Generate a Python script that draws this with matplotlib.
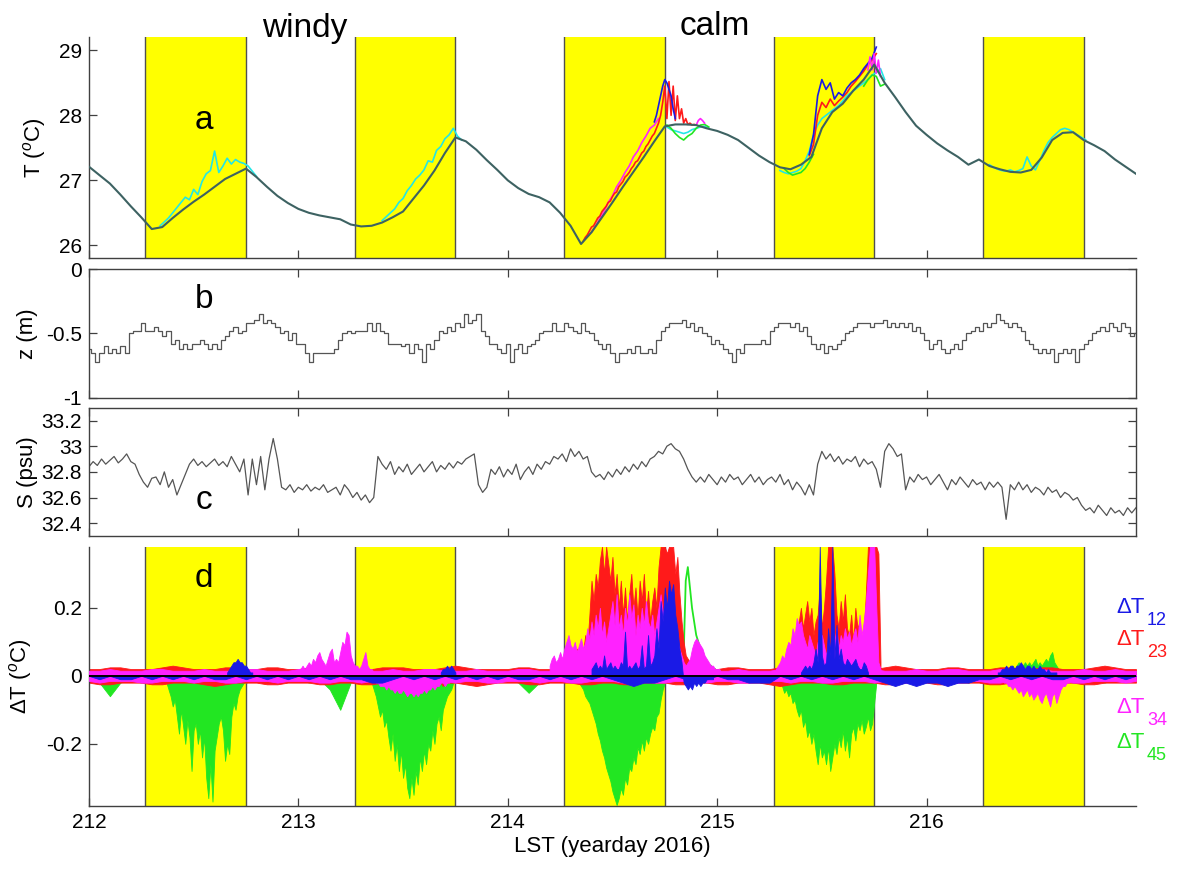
import numpy as np
import matplotlib
matplotlib.use("Agg")
import matplotlib.pyplot as plt
from matplotlib.ticker import FuncFormatter

plt.rcParams['font.family'] = ['Liberation Sans', 'DejaVu Sans']
plt.rcParams['axes.unicode_minus'] = False
plt.rcParams['mathtext.fontset'] = 'custom'
plt.rcParams['mathtext.rm'] = 'Liberation Sans'
plt.rcParams['mathtext.it'] = 'Liberation Sans:italic'

# daylight periods (yellow boxes)
sunrise = [212.27, 213.27, 214.27, 215.27, 216.27]
sunset = [212.75, 213.75, 214.75, 215.75, 216.75]
day_ticks = [212, 213, 214, 215, 216]

# ---- panel a: temperature (deg C), every 0.05 day from 212 to 217
T_base = [27.21, 27.08, 26.95, 26.78, 26.60, 26.43, 26.25, 26.28, 26.42, 26.55,
          26.67, 26.78, 26.90, 27.02, 27.10, 27.18, 27.05, 26.90, 26.76, 26.65,
          26.56, 26.50, 26.46, 26.43, 26.40, 26.32, 26.29, 26.30, 26.35, 26.43,
          26.52, 26.72, 26.92, 27.15, 27.42, 27.66, 27.60, 27.47, 27.31, 27.16,
          27.00, 26.88, 26.79, 26.74, 26.66, 26.50, 26.30, 26.02, 26.20, 26.43,
          26.66, 26.90, 27.13, 27.36, 27.60, 27.83, 27.86, 27.86, 27.85, 27.80,
          27.76, 27.70, 27.62, 27.50, 27.38, 27.28, 27.20, 27.17, 27.24, 27.36,
          27.80, 28.05, 28.18, 28.38, 28.55, 28.78, 28.50, 28.28, 28.05, 27.84,
          27.70, 27.57, 27.46, 27.36, 27.24, 27.32, 27.22, 27.17, 27.13, 27.12,
          27.16, 27.35, 27.62, 27.73, 27.74, 27.62, 27.54, 27.45, 27.32, 27.21,
          27.10]

# other sensors where they split from the bundle
cyan_a1 = [26.30, 26.36, 26.42, 26.50, 26.58, 26.66, 26.74, 26.70, 26.86, 26.78,
           26.98, 27.10, 27.15, 27.45, 27.12, 27.22, 27.34, 27.25, 27.32, 27.28,
           27.26, 27.22, 27.14, 27.06]
cyan_a2 = [26.38, 26.44, 26.50, 26.56, 26.66, 26.72, 26.84, 26.92, 27.02, 27.08,
           27.16, 27.30, 27.28, 27.46, 27.52, 27.64, 27.70, 27.80, 27.68, 27.62]
red_a3 = [26.06, 26.12, 26.16, 26.22, 26.28, 26.30, 26.36, 26.42, 26.45, 26.52,
          26.56, 26.60, 26.66, 26.68, 26.75, 26.80, 26.82, 26.90, 26.94, 26.98,
          27.05, 27.08, 27.12, 27.18, 27.22, 27.28, 27.30, 27.36, 27.42, 27.45,
          27.52, 27.56, 27.62, 27.68, 27.72, 27.80, 27.88, 28.00, 28.20, 28.45,
          27.95, 28.52, 28.00, 28.45, 27.92, 28.30, 27.95, 28.10, 27.88, 27.95,
          27.86, 27.88, 27.85, 27.86, 27.85]
magenta_a3b = [26.20, 26.30, 26.42, 26.52, 26.66, 26.76, 26.90, 27.00, 27.12, 27.22,
               27.36, 27.45, 27.58, 27.68, 27.80, 27.85, 27.95]
blue_a3 = [27.90, 28.00, 28.15, 28.30, 28.45, 28.55, 28.50, 28.40, 28.30, 28.10, 27.95]
green_a3 = [27.85, 27.80, 27.72, 27.66, 27.62, 27.68, 27.72, 27.80, 27.85, 27.86, 27.82]
cyan_a3 = [27.82, 27.78, 27.76, 27.74, 27.72, 27.74, 27.78, 27.80, 27.82, 27.83, 27.80]
magenta_a3 = [27.85, 27.92, 27.95, 27.92, 27.88]
cyan_a4 = [27.15, 27.12, 27.10, 27.12, 27.14, 27.18, 27.30, 27.45, 27.70, 27.85,
           27.95, 28.00, 28.05, 28.10, 28.15, 28.22, 28.30, 28.35, 28.40, 28.45,
           28.50, 28.55, 28.62, 28.66, 28.72, 28.55]
green_a4 = [27.18, 27.12, 27.08, 27.10, 27.12, 27.18, 27.28, 27.40]
green_a4b = [28.45, 28.55, 28.62, 28.60, 28.45, 28.48]
red_a4 = [27.38, 27.55, 28.00, 28.20, 28.12, 28.25, 28.15, 28.22, 28.28, 28.35,
          28.45, 28.52, 28.60, 28.68, 28.78, 28.85, 28.95]
blue_a4 = [27.40, 27.70, 28.30, 28.55, 28.40, 28.50, 28.25, 28.35, 28.30, 28.42,
           28.50, 28.55, 28.62, 28.72, 28.80, 28.88, 29.05]
magenta_a4 = [28.70, 28.90, 28.70, 28.95, 28.65, 28.85, 28.60]
cyan_a5 = [27.24, 27.20, 27.17, 27.15, 27.14, 27.16, 27.13, 27.15, 27.18, 27.36,
           27.22, 27.16, 27.30, 27.45, 27.58, 27.66, 27.72, 27.78, 27.80, 27.78,
           27.74, 27.70, 27.66, 27.62]

# ---- panel b: depth z (m), every 0.02 day
z_depth = [-0.62, -0.65, -0.72, -0.65, -0.60, -0.65, -0.62, -0.65, -0.60, -0.65,
           -0.50, -0.48, -0.48, -0.42, -0.48, -0.48, -0.45, -0.48, -0.52, -0.48, -0.58,
           -0.55, -0.62, -0.58, -0.62, -0.58, -0.58, -0.55, -0.58, -0.62, -0.58, -0.62, -0.55, -0.52,
           -0.48, -0.45, -0.50, -0.48, -0.42,
           -0.42, -0.40, -0.35, -0.42, -0.40, -0.42, -0.45, -0.50,
           -0.48, -0.55, -0.50, -0.58, -0.58,
           -0.65, -0.72, -0.65, -0.65, -0.65, -0.65, -0.65, -0.62,
           -0.55, -0.50, -0.48, -0.50, -0.48, -0.48, -0.48,
           -0.42, -0.48, -0.42, -0.48,
           -0.50, -0.58, -0.58, -0.58, -0.60,
           -0.58, -0.65, -0.58, -0.62, -0.72, -0.58, -0.62,
           -0.55, -0.48, -0.50, -0.45, -0.48, -0.42, -0.45,
           -0.35, -0.42, -0.40, -0.35,
           -0.48, -0.52, -0.58,
           -0.58, -0.62, -0.65, -0.58, -0.72, -0.62, -0.58, -0.65, -0.60, -0.58, -0.55,
           -0.50, -0.48, -0.48, -0.42, -0.48, -0.48, -0.42, -0.45, -0.48, -0.50, -0.42, -0.48, -0.50,
           -0.55, -0.58, -0.62, -0.58, -0.65, -0.72,
           -0.65, -0.65, -0.62, -0.65, -0.60, -0.65, -0.65, -0.62, -0.65,
           -0.55, -0.48, -0.45, -0.42,
           -0.42, -0.42, -0.40, -0.45, -0.42, -0.48, -0.45,
           -0.50, -0.52, -0.58, -0.55, -0.58,
           -0.62, -0.65, -0.72, -0.62, -0.65, -0.58,
           -0.58, -0.58, -0.58, -0.55, -0.58,
           -0.48, -0.45, -0.42, -0.42,
           -0.42, -0.45, -0.42, -0.48, -0.45,
           -0.52, -0.58, -0.62, -0.58, -0.65, -0.60, -0.62, -0.58,
           -0.55, -0.50, -0.48, -0.45, -0.42, -0.42,
           -0.42, -0.45, -0.42, -0.42, -0.40, -0.45, -0.42, -0.45, -0.42, -0.45, -0.42, -0.48, -0.45,
           -0.50, -0.55, -0.62, -0.58, -0.55,
           -0.62, -0.65, -0.62, -0.58, -0.62,
           -0.55, -0.50, -0.48, -0.45, -0.48, -0.42, -0.45,
           -0.42, -0.35, -0.40, -0.42, -0.45, -0.42, -0.45, -0.48,
           -0.55, -0.58,
           -0.62, -0.65, -0.62, -0.65, -0.62, -0.72, -0.65, -0.62, -0.65, -0.62, -0.72, -0.62, -0.58,
           -0.55, -0.50, -0.48, -0.45, -0.48, -0.42, -0.45, -0.48, -0.42, -0.45, -0.52, -0.50]

# ---- panel c: salinity (psu), every 0.02 day
S_sal = [32.84, 32.88, 32.85, 32.90, 32.86, 32.89, 32.92, 32.87, 32.90, 32.94, 32.88, 32.86,
         32.78, 32.72, 32.68, 32.75,
         32.76, 32.70, 32.80, 32.68, 32.74, 32.62, 32.70,
         32.78, 32.86, 32.90, 32.85, 32.88, 32.84, 32.87,
         32.90, 32.85, 32.88, 32.84, 32.92, 32.86, 32.80, 32.90, 32.62, 32.90, 32.70, 32.92, 32.66, 32.90,
         33.06, 32.90,
         32.68, 32.66, 32.70, 32.64, 32.68, 32.66, 32.70, 32.65, 32.68, 32.66, 32.70, 32.64,
         32.66, 32.68, 32.62, 32.70, 32.66, 32.60, 32.64, 32.58, 32.62, 32.56, 32.60,
         32.92, 32.86,
         32.82, 32.88, 32.78, 32.84, 32.80, 32.86, 32.78, 32.82, 32.86, 32.80, 32.84,
         32.88, 32.80, 32.85, 32.82, 32.87, 32.83, 32.88, 32.86, 32.90, 32.92, 32.94,
         32.70, 32.64, 32.68,
         32.82, 32.78, 32.84, 32.76, 32.82, 32.78, 32.86, 32.74, 32.80, 32.84, 32.78, 32.86,
         32.82, 32.88, 32.86, 32.92, 32.90,
         32.94, 32.88, 32.98, 32.92, 32.96, 32.90, 32.92,
         32.80, 32.76,
         32.78, 32.74, 32.80, 32.76, 32.82, 32.78, 32.84, 32.80, 32.86, 32.82, 32.88, 32.84, 32.90,
         32.92, 32.96, 32.94, 33.00, 33.02, 32.98, 32.96,
         32.90, 32.82, 32.76, 32.72,
         32.76, 32.72, 32.78, 32.74, 32.70, 32.76, 32.72, 32.78, 32.74, 32.76, 32.70, 32.74, 32.78, 32.72,
         32.76, 32.70, 32.74, 32.76, 32.72, 32.78, 32.70, 32.74, 32.66, 32.72, 32.68, 32.62, 32.70, 32.62,
         32.86, 32.96, 32.90, 32.94,
         32.88, 32.92, 32.86, 32.90, 32.88, 32.92, 32.84, 32.90, 32.86, 32.88, 32.82,
         32.68, 32.96, 33.02, 32.98, 32.92, 32.94, 32.66,
         32.76, 32.72, 32.78, 32.74, 32.76, 32.70, 32.74, 32.78, 32.72, 32.66, 32.74,
         32.70, 32.76, 32.72, 32.68, 32.74, 32.70, 32.72, 32.66, 32.72, 32.68,
         32.72, 32.68, 32.43, 32.70, 32.66, 32.72,
         32.66, 32.70, 32.64, 32.68, 32.66, 32.62, 32.68, 32.64, 32.66, 32.60, 32.64, 32.62, 32.58, 32.60,
         32.54, 32.50, 32.52, 32.48, 32.54, 32.50, 32.46, 32.52, 32.48, 32.50, 32.46, 32.52, 32.48, 32.52]

# ---- panel d: temperature differences, in 0.01 deg C
# background scatter, every 0.05 day
red_noise_hi = [2, 2, 2.5, 2.5, 2, 2, 2, 2.5, 3, 2.5, 2, 2, 2, 2.5, 2.5, 2, 2, 2.5, 2.5, 2,
                2, 2.5, 3, 2.5, 2, 2, 2, 2, 2.5, 2.5, 2.5, 2, 2, 2, 2.5, 3, 2.5, 2, 2, 2,
                2, 2.5, 2.5, 2, 2, 2.5, 2.5, 2, 2, 2, 2.5, 2.5, 2, 2, 2, 2.5, 2.5, 2, 2, 2,
                2, 2.5, 2.5, 2, 2, 2, 2.5, 2.5, 2, 2, 2, 2, 2.5, 2.5, 2, 2, 2.5, 3, 2.5, 2,
                2, 2, 2.5, 2.5, 2, 2, 2, 2.5, 2.5, 2, 2, 2.5, 2.5, 2, 2, 2, 2.5, 3, 2.5, 2, 2]
red_noise_lo = [-2, -2.5, -2.5, -2, -2, -2, -2.5, -2.5, -2, -2, -2, -2.5, -3, -2.5, -2, -2, -2, -2.5, -2.5, -2,
                -2, -2, -2.5, -2.5, -2, -2, -2.5, -2.5, -2, -2, -2, -2.5, -2.5, -2, -2, -2, -2.5, -3, -2.5, -2,
                -2, -2, -2.5, -2.5, -2, -2, -2, -2.5, -2.5, -2, -2, -2.5, -2.5, -2, -2, -2, -2.5, -2.5, -2, -2,
                -2.5, -2.5, -2, -2, -2, -2.5, -3, -2.5, -2, -2, -2, -2.5, -2.5, -2, -2, -2, -2.5, -2.5, -2, -2,
                -2, -2.5, -2.5, -2, -2, -2, -2.5, -2.5, -2, -2, -2.5, -2.5, -2, -2, -2, -2.5, -2.5, -2, -2, -2, -2]
mag_noise_hi = [1.5, 1.5, 2, 1.5, 1.5, 1.5, 2, 2, 1.5, 1.5, 1.5, 2, 1.5, 1.5, 1.5, 2, 2, 1.5, 1.5, 1.5,
                2, 1.5, 1.5, 1.5, 2, 2, 1.5, 1.5, 1.5, 2, 1.5, 1.5, 2, 2, 1.5, 1.5, 1.5, 2, 1.5, 1.5,
                1.5, 2, 2, 1.5, 1.5, 1.5, 2, 1.5, 1.5, 2, 2, 1.5, 1.5, 1.5, 2, 1.5, 1.5, 1.5, 2, 2,
                1.5, 1.5, 2, 1.5, 1.5, 1.5, 2, 2, 1.5, 1.5, 2, 1.5, 1.5, 1.5, 2, 2, 1.5, 1.5, 1.5, 2,
                1.5, 1.5, 2, 2, 1.5, 1.5, 1.5, 2, 1.5, 1.5, 2, 2, 1.5, 1.5, 1.5, 2, 1.5, 1.5, 2, 1.5, 1.5]
mag_noise_lo = [-1.5, -2, -1.5, -1.5, -1.5, -2, -2, -1.5, -1.5, -1.5, -2, -1.5, -1.5, -2, -2, -1.5, -1.5, -1.5, -2, -1.5,
                -1.5, -1.5, -2, -2, -1.5, -1.5, -2, -1.5, -1.5, -1.5, -2, -2, -1.5, -1.5, -1.5, -2, -1.5, -1.5, -2, -2,
                -1.5, -1.5, -1.5, -2, -1.5, -1.5, -2, -2, -1.5, -1.5, -1.5, -2, -1.5, -1.5, -2, -2, -1.5, -1.5, -1.5, -2,
                -1.5, -1.5, -2, -2, -1.5, -1.5, -1.5, -2, -1.5, -1.5, -2, -2, -1.5, -1.5, -1.5, -2, -1.5, -1.5, -2, -2,
                -1.5, -1.5, -1.5, -2, -1.5, -1.5, -2, -2, -1.5, -1.5, -1.5, -2, -1.5, -1.5, -2, -2, -1.5, -1.5, -1.5, -2, -1.5]
green_noise = [-1, -2, -6, -2, -1, -2, -1, -1, -2, -1, -1, -2, -1, -1, -1, -2, -1, -2, -1, -1,
               -1, -2, -1, -4, -10, -2, -1, -1, -2, -1, -1, -2, -1, -1, -1, -2, -1, -2, -1, -1,
               -1, -2, -5, -2, -1, -1, -2, -1, -1, -2, -1, -1, -2, -1, -1, -1, -2, -1, -1, -2,
               -1, -1, -2, -1, -1, -2, -1, -1, -1, -2, -1, -2, -1, -1, -2, -1, -1, -2, -1, -1,
               -1, -2, -1, -1, -2, -1, -1, -2, -1, -1, -1, -2, -1, -1, -2, -1, -1, -2, -1, -1, -1]
blue_noise = [0, -1, 0, -1, -1, 0, -1, 0, -1, 0, -1, 0, -1, -1, 0, -1, 0, -1, 0, -1,
              0, -1, 0, -1, 0, -1, -1, -2, -2, -1, 0, -1, 0, -1, 0, -1, 0, -1, 0, -1,
              0, -1, -1, 0, -1, 0, -1, 0, -1, 0, -1, -2, -3, -2, -2, -1, 0, -1, 0, -1,
              0, -1, -1, -2, -2, -2, 0, -1, 0, -1, 0, -1, 0, -1, 0, -1, -2, -3, -2, -3,
              -2, -2, -3, -2, -2, -1, -1, 0, -1, 0, -1, 0, -1, -1, 0, -1, 0, -1, 0, -1, 0]

# daytime events, values every 0.01 day
green_d1 = [-1, -2, -4, -6, -9, -7, -12, -17, -10, -15, -20, -13, -18, -28, -16, -14, -20, -16, -24, -18,
            -30, -36, -26, -37, -22, -18, -14, -12, -16, -25, -20, -23, -12, -8, -10, -6, -4, -3, -2, -1, -1]
green_d2 = [-1, -2, -4, -6, -9, -12, -10, -15, -13, -18, -22, -17, -25, -20, -28, -22, -30, -26, -33, -36,
            -30, -35, -28, -32, -24, -28, -22, -26, -20, -22, -16, -20, -14, -12, -16, -10, -8, -6, -5, -4,
            -2, -1]
green_d3 = [-2, -3, -4, -6, -7, -8, -10, -12, -14, -17, -19, -22, -24, -27, -29, -31, -34, -36, -38, -36,
            -33, -35, -30, -32, -27, -28, -24, -26, -21, -23, -19, -22, -18, -20, -17, -15, -16, -12, -11, -7,
            -4, -2]
green_d3pos = [2, 3, 6, 28, 32, 26, 20, 16, 12, 10, 8, 7, 5, 4, 3, 3, 2, 2, 1]
green_d4 = [-2, -3, -5, -4, -6, -5, -8, -7, -10, -12, -10, -15, -13, -18, -16, -20, -17, -22, -26, -20,
            -24, -22, -26, -21, -28, -24, -20, -23, -18, -21, -16, -22, -18, -24, -17, -15, -19, -14, -16, -13,
            -17, -15, -12, -16, -14, -8, -2]
green_d5 = [1, 2, 2, 3, 2, 3, 4, 3, 3, 4, 3, 4, 3, 4, 5, 3, 4, 3, 4, 5, 4, 6, 7, 4, 3, 2, 2, 1, 1]
red_d2 = [-1, -2, -2, -3, -2, -3, -3, -2, -3, -4, -3, -3, -4, -3, -4, -4, -3, -4, -3, -4,
          -3, -3, -4, -3, -3, -2, -3, -2, -2, -3, -2, -2, -1, -2, -1, -1]
red_d3 = [4, 6, 5, 8, 6, 10, 7, 12, 9, 18, 28, 22, 30, 26, 34, 38, 30, 38, 33, 28,
          35, 24, 30, 20, 28, 18, 26, 16, 24, 30, 20, 26, 17, 28, 22, 30, 18, 25, 16, 22,
          26, 20, 32, 38, 38, 38, 36, 38, 38, 38, 30, 35, 24, 16, 10, 6, 5, 4, 3, 4, 3, 2, 2]
red_d4 = [2, 3, 4, 6, 5, 8, 7, 10, 12, 16, 20, 14, 18, 22, 16, 20, 12, 16, 18, 26,
          14, 20, 28, 38, 38, 38, 30, 18, 14, 22, 16, 24, 14, 12, 18, 10, 20, 14, 16, 8,
          12, 24, 38, 38, 38, 38, 38, 36, 4]
magenta_d2 = [2, 2, 3, 2, 3, 4, 3, 5, 4, 6, 7, 5, 4, 3, 5, 7, 8, 4, 5, 4,
              7, 10, 9, 13, 12, 6, 4, 3, 3, 2, 3, 5, 7, 3, 2, 2, 1]
magenta_d2neg = [-1, -2, -2, -3, -3, -3, -4, -3, -4, -4, -5, -4, -5, -5, -4, -5, -6, -5, -5, -6,
                 -5, -6, -5, -5, -4, -5, -4, -4, -3, -4, -3, -3, -2, -2, -3, -2, -2, -1, -1, -1, -1]
magenta_d3 = [3, 5, 6, 4, 5, 7, 5, 8, 10, 12, 9, 8, 10, 7, 9, 11, 8, 10, 14, 11,
              16, 12, 18, 14, 20, 12, 16, 10, 14, 18, 22, 15, 24, 14, 18, 12, 20, 15, 24, 17,
              21, 12, 18, 14, 20, 15, 22, 16, 14, 18, 12, 16, 20, 24, 18, 22, 16, 20, 14, 12,
              16, 10, 8, 6, 4, 3, 4, 5, 8, 10, 11, 10, 9, 8, 6, 5, 4, 3, 3, 2, 2, 2, 1]
magenta_d4 = [2, 3, 4, 6, 5, 8, 10, 9, 14, 12, 17, 15, 16, 12, 10, 8, 12, 10, 8, 6,
              10, 8, 12, 9, 6, 10, 8, 12, 10, 14, 8, 12, 10, 14, 11, 13, 9, 12, 14, 10,
              18, 12, 16, 22, 30, 38, 38, 38, 20, 4, 2]
magenta_d5neg = [-1, -2, -2, -3, -3, -4, -3, -4, -5, -4, -6, -5, -4, -6, -5, -7, -6, -5, -7, -8,
                 -6, -5, -7, -9, -6, -5, -8, -6, -4, -3, -3, -2, -2, -1, -1]
blue_d1 = [1, 2, 3, 4, 4, 5, 4, 4, 3, 3, 2, 1, 1]
blue_d2 = [1, 2, 2, 3, 2, 3, 2, 1]
blue_d3 = [2, 3, 4, 2, 3, 2, 6, 2, 3, 4, 2, 3, 2, 2, 4, 3, 13, 2, 3, 2,
           3, 4, 2, 3, 9, 2, 3, 12, 3, 4, 6, 14, 8, 22, 16, 26, 20, 28, 24, 27,
           18, 14, 8, 4, -2, -3, -4, -3, -4, -2, -3, -2, -3, -2, -2, -1, -1, -1, -1]
blue_d4 = [1, 2, 3, 2, 3, 2, 4, 8, 4, 38, 6, 3, 4, 14, 6, 38, 5, 15, 5, 8,
           4, 3, 5, 4, 3, 4, 5, 3, 2, 2, 4, 3, 1]
blue_d5 = [1, 1, 2, 2, 3, 2, 3, 3, 2, 3, 3, 4, 3, 2, 3, 3, 2, 3, 2, 2, 3, 2, 2, 1, 2, 1, 1, 1, 1]

C_CYAN = '#22e6e6'
C_RED = '#ff1a1a'
C_BLUE = '#1a1ae6'
C_MAG = '#ff22ff'
C_GREEN = '#22e622'
C_EDGE = '#404040'


def seg_t(start, n, step):
    return start + step * np.arange(n)


def shade_days(ax):
    for s, e in zip(sunrise, sunset):
        ax.axvspan(s, e, facecolor='#ffff00', edgecolor='none', zorder=0)
        ax.axvline(s, color='#505050', lw=1.0, zorder=0.5)
        ax.axvline(e, color='#505050', lw=1.0, zorder=0.5)


def style_axes(ax, box):
    ax.set_xlim(212, 217)
    ax.set_xticks(day_ticks)
    for sp in ax.spines.values():
        sp.set_color(C_EDGE)
        sp.set_linewidth(1.0)
    if not box:
        ax.spines['top'].set_visible(False)
        ax.spines['right'].set_visible(False)
    ax.tick_params(direction='in', length=6, width=0.9, color=C_EDGE,
                   labelsize=15, pad=5, top=box, right=box)
    ax.yaxis.set_major_formatter(FuncFormatter(lambda v, p: '%g' % round(v, 3)))


fig = plt.figure(figsize=(11.86, 8.69), dpi=100)
left, width = 0.075, 0.8828
ax_a = fig.add_axes([left, 0.7028, width, 0.2542])
ax_b = fig.add_axes([left, 0.5424, width, 0.1480])
ax_c = fig.add_axes([left, 0.3832, width, 0.1476])
ax_d = fig.add_axes([left, 0.0725, width, 0.2984])

# panel a
shade_days(ax_a)
segs_a = [
    (212.34, 0.02, cyan_a1, C_CYAN), (213.40, 0.02, cyan_a2, C_CYAN),
    (214.76, 0.02, cyan_a3, C_CYAN), (215.30, 0.02, cyan_a4, C_CYAN),
    (216.30, 0.02, cyan_a5, C_CYAN),
    (214.76, 0.02, green_a3, C_GREEN), (215.32, 0.02, green_a4, C_GREEN),
    (215.70, 0.02, green_a4b, C_GREEN),
    (214.40, 0.02, magenta_a3b, C_MAG),
    (214.36, 0.01, red_a3, C_RED), (215.44, 0.02, red_a4, C_RED),
    (214.70, 0.01, blue_a3, C_BLUE), (215.44, 0.02, blue_a4, C_BLUE),
    (214.90, 0.01, magenta_a3, C_MAG), (215.72, 0.01, magenta_a4, C_MAG),
]
for start, step, vals, col in segs_a:
    ax_a.plot(seg_t(start, len(vals), step), vals, color=col, lw=1.2, zorder=2)
t_a = np.linspace(212, 217, len(T_base))
ax_a.plot(t_a, T_base, color='#3d6262', lw=1.5, zorder=3)
ax_a.set_ylim(25.8, 29.2)
ax_a.set_yticks([26, 27, 28, 29])
style_axes(ax_a, box=False)
ax_a.set_xticklabels([])
ax_a.set_ylabel('T ($^{o}$C)', fontsize=16)
ax_a.yaxis.set_label_coords(-0.039, 0.5)
ax_a.text(212.55, 27.79, 'a', fontsize=24, ha='center', va='baseline')

# panel b
t_b = np.linspace(212, 217, len(z_depth))
ax_b.plot(t_b, z_depth, color='#555555', lw=0.9, drawstyle='steps-mid')
ax_b.set_ylim(-1, 0)
ax_b.set_yticks([-1, -0.5, 0])
style_axes(ax_b, box=True)
ax_b.set_xticklabels([])
ax_b.set_ylabel('z (m)', fontsize=16)
ax_b.yaxis.set_label_coords(-0.0487, 0.5)
ax_b.text(212.55, -0.30, 'b', fontsize=24, ha='center', va='baseline')

# panel c
t_c = np.linspace(212, 217, len(S_sal))
ax_c.plot(t_c, S_sal, color='#555555', lw=0.9)
ax_c.set_ylim(32.3, 33.3)
ax_c.set_yticks([32.4, 32.6, 32.8, 33.0, 33.2])
style_axes(ax_c, box=True)
ax_c.set_xticklabels([])
ax_c.set_ylabel('S (psu)', fontsize=16)
ax_c.yaxis.set_label_coords(-0.0487, 0.5)
ax_c.text(212.55, 32.51, 'c', fontsize=24, ha='center', va='baseline')

# panel d
shade_days(ax_d)
t_n = np.linspace(212, 217, len(red_noise_hi))


def fill_seg(start, vals, col, z):
    t = seg_t(start, len(vals), 0.01)
    v = np.array(vals) / 100.0
    ax_d.fill_between(t, 0, v, color=col, lw=0.6, zorder=z)


ax_d.fill_between(t_n, 0, np.array(green_noise) / 100.0, color=C_GREEN, lw=0.6, zorder=1)
fill_seg(212.36, green_d1, C_GREEN, 1)
fill_seg(213.34, green_d2, C_GREEN, 1)
fill_seg(214.34, green_d3, C_GREEN, 1)
fill_seg(215.30, green_d4, C_GREEN, 1)
fill_seg(216.38, green_d5, C_GREEN, 1)
ax_d.plot(seg_t(214.82, len(green_d3pos), 0.01), np.array(green_d3pos) / 100.0,
          color=C_GREEN, lw=1.3, zorder=1)
ax_d.fill_between(t_n, np.array(red_noise_lo) / 100.0, np.array(red_noise_hi) / 100.0,
                  color=C_RED, lw=0.6, zorder=2)
fill_seg(213.40, red_d2, C_RED, 2)
fill_seg(214.30, red_d3, C_RED, 2)
fill_seg(215.30, red_d4, C_RED, 2)
ax_d.fill_between(t_n, np.array(mag_noise_lo) / 100.0, np.array(mag_noise_hi) / 100.0,
                  color=C_MAG, lw=0.6, zorder=3)
fill_seg(213.00, magenta_d2, C_MAG, 3)
fill_seg(213.36, magenta_d2neg, C_MAG, 3)
fill_seg(214.20, magenta_d3, C_MAG, 3)
fill_seg(215.28, magenta_d4, C_MAG, 3)
fill_seg(216.36, magenta_d5neg, C_MAG, 3)
ax_d.fill_between(t_n, 0, np.array(blue_noise) / 100.0, color=C_BLUE, lw=0.6, zorder=4)
fill_seg(212.66, blue_d1, C_BLUE, 4)
fill_seg(213.68, blue_d2, C_BLUE, 4)
fill_seg(214.40, blue_d3, C_BLUE, 4)
fill_seg(215.40, blue_d4, C_BLUE, 4)
fill_seg(216.34, blue_d5, C_BLUE, 4)
ax_d.axhline(0, color='k', lw=1.4, zorder=5)
ax_d.set_ylim(-0.383, 0.38)
ax_d.set_yticks([-0.2, 0, 0.2])
style_axes(ax_d, box=False)
ax_d.set_xlabel('LST (yearday 2016)', fontsize=16, labelpad=3)
ax_d.set_ylabel('ΔT ($^{o}$C)', fontsize=16)
ax_d.yaxis.set_label_coords(-0.0525, 0.5)
ax_d.text(212.55, 0.262, 'd', fontsize=24, ha='center', va='baseline')

# labels above panel a
fig.text(305 / 1186, 1 - 37 / 869, 'windy', fontsize=24, ha='center', va='baseline')
fig.text(715 / 1186, 1 - 35 / 869, 'calm', fontsize=24, ha='center', va='baseline')

# legend texts for panel d
legend_rows = [('12', C_BLUE, 613), ('23', C_RED, 645), ('34', C_MAG, 713), ('45', C_GREEN, 748)]
for sub, col, ypix in legend_rows:
    fig.text(1116 / 1186, 1 - ypix / 869, 'ΔT', color=col, fontsize=16, va='baseline')
    fig.text(1147 / 1186, 1 - (ypix + 12) / 869, sub, color=col, fontsize=13, va='baseline')

fig.savefig('out.png', dpi=100)
